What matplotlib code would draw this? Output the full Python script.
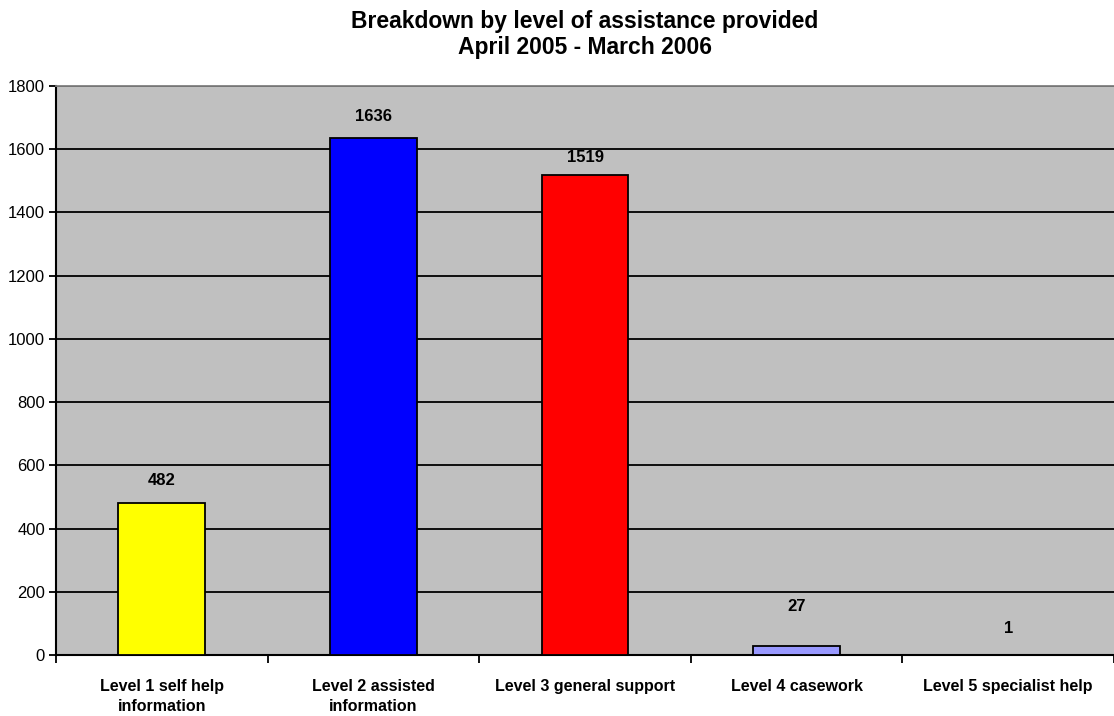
import matplotlib.pyplot as plt

plt.rcParams['font.family'] = ['Liberation Sans', 'DejaVu Sans']

# data
categories = ['Level 1 self help\ninformation', 'Level 2 assisted\ninformation',
              'Level 3 general support', 'Level 4 casework', 'Level 5 specialist help']
values = [482, 1636, 1519, 27, 1]
bar_colors = ['#FFFF00', '#0000FF', '#FF0000', '#9999FF', '#993366']
label_offsets = [16, 15, 12, 29, 19]  # points above bar top
y_ticks = [0, 200, 400, 600, 800, 1000, 1200, 1400, 1600, 1800]

fig = plt.figure(figsize=(11.14, 7.16), dpi=100)
ax = fig.add_axes([0.0503, 0.0852, 0.9497, 0.795])
ax.set_facecolor('#C0C0C0')

x = list(range(len(values)))
ax.bar(x, values, width=0.41, color=bar_colors, edgecolor='black', linewidth=1.3, zorder=3)

for xi, v, off in zip(x, values, label_offsets):
    ax.annotate(str(v), (xi, v), xytext=(0, off), textcoords='offset points',
                ha='center', va='center', fontsize=12, fontweight='bold')

ax.set_xlim(-0.5, len(values) - 0.5)
ax.set_ylim(0, 1800)
ax.set_yticks(y_ticks)
ax.tick_params(axis='y', labelsize=12, length=5, width=1.3, direction='out', pad=3)
ax.yaxis.grid(True, color='black', linewidth=1.3, zorder=1)
ax.set_axisbelow(True)

ax.set_xticks(x)
ax.set_xticklabels(categories, fontsize=11.5, fontweight='bold')
for lab in ax.get_xticklabels():
    lab.set_linespacing(1.4)
ax.tick_params(axis='x', length=0, pad=17.5)
ax.set_xticks([i + 0.5 for i in range(-1, len(values))], minor=True)
ax.tick_params(axis='x', which='minor', length=6, width=1.3, direction='out')

ax.spines['left'].set_linewidth(1.5)
ax.spines['bottom'].set_linewidth(1.5)
ax.spines['top'].set_color('#808080')
ax.spines['top'].set_linewidth(1.3)
ax.spines['right'].set_visible(False)

fig.text(0.525, 0.986, 'Breakdown by level of assistance provided\nApril 2005 - March 2006',
         ha='center', va='top', fontsize=16.5, fontweight='bold', linespacing=1.15)

fig.savefig('out.png', dpi=100)
